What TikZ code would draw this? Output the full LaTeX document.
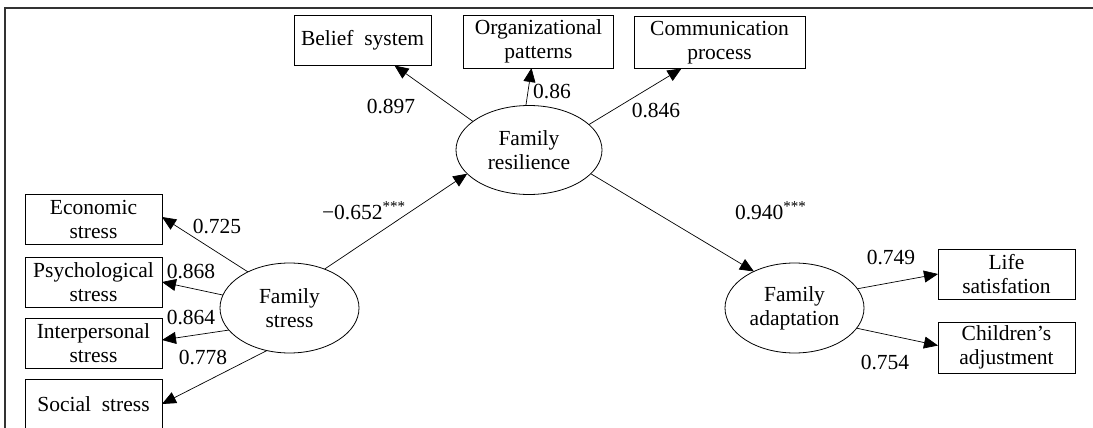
\documentclass[tikz,border=0pt]{standalone}
\usepackage{fontspec}
\setmainfont{Liberation Serif}
\usetikzlibrary{shapes.geometric,arrows.meta}
\begin{document}
\begin{tikzpicture}[x=1pt, y=-1pt,
   every node/.style={font=\fontsize{21.5}{24}\selectfont, align=center, inner sep=0pt, outer sep=0pt},
   obsbox/.style={draw, line width=0.8pt, minimum width=137pt, minimum height=50pt},
   latent/.style={draw, ellipse, line width=0.8pt, minimum width=139pt, minimum height=90pt},
   loading/.style={-{Triangle[length=14pt,width=12pt]}, line width=0.7pt}]

\useasboundingbox (0,0) rectangle (1093,428);
\draw[line width=1.8pt, black!80] (5,428) -- (5,8) -- (1093,8);

% latent variables
\node[latent, minimum width=146pt, minimum height=89pt] (fr) at (529,150) {Family\\resilience};
\node[latent] (fs) at (289.5,308) {Family\\stress};
\node[latent] (fa) at (794.5,308) {Family\\adaptation};

% indicators
\node[obsbox] (belief) at (362.5,40.5) {Belief\ \ system};
\node[obsbox, minimum width=150pt, minimum height=53pt] (org) at (538.5,41.5) {Organizational\\patterns};
\node[obsbox, minimum width=171pt, minimum height=52pt] (comm) at (719.5,42.5) {Communication\\process};
\node[obsbox] (econ) at (93.5,219) {Economic\\stress};
\node[obsbox] (psych) at (93.5,282) {Psychological\\stress};
\node[obsbox] (inter) at (93.5,343) {Interpersonal\\stress};
\node[obsbox] (social) at (93.5,404) {Social\ \ stress};
\node[obsbox] (life) at (1006.5,274) {Life\\satisfation};
\node[obsbox, minimum height=51pt] (child) at (1006.5,347.5) {Children’s\\adjustment};

% paths
\draw[loading] (fr.153) -- ([xshift=32pt]belief.south);
\draw[loading] (fr.94) -- ([xshift=-7pt]org.south);
\draw[loading] (fr.23) -- ([xshift=-38pt]comm.south);
\draw[loading] (fs.48) -- (fr.201);
\draw[loading] (fr.339) -- (fa.138);
\draw[loading] (fs.139) -- ([yshift=2pt]econ.east);
\draw[loading] (fs.169) -- (psych.east);
\draw[loading] (fs.200) -- ([yshift=3pt]inter.east);
\draw[loading] (fs.242) -- (social.east);
\draw[loading] (fa.17) -- (life.west);
\draw[loading] (fa.342) -- ([yshift=2pt]child.west);

% coefficients
\node (lbelief) at (391,107) {0.897};
\node (lorg) at (552,92) {0.86};
\node (lcomm) at (656,111) {0.846};
\node[anchor=base west] (lfsfr) at (322,219) {−0.652\textsuperscript{***}};
\node[anchor=base west] (lfrfa) at (735,219) {0.940\textsuperscript{***}};
\node (lecon) at (217,227) {0.725};
\node (lpsych) at (191,272) {0.868};
\node (linter) at (191,318) {0.864};
\node (lsocial) at (203,358) {0.778};
\node (llife) at (891,258) {0.749};
\node (lchild) at (885,363) {0.754};

\end{tikzpicture}
\end{document}
